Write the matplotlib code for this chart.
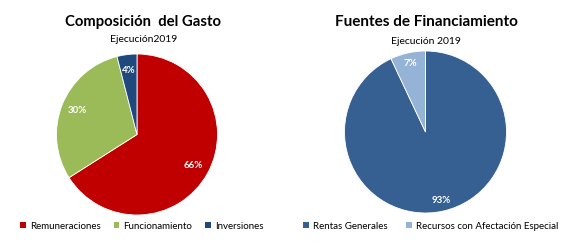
import matplotlib
matplotlib.use("Agg")
import matplotlib.pyplot as plt
from matplotlib.patches import Patch

plt.rcParams['font.family'] = ['Lato', 'DejaVu Sans']

gasto_labels = ["Remuneraciones", "Funcionamiento", "Inversiones"]
gasto_values = [66, 30, 4]
gasto_colors = ["#C00000", "#9BBB59", "#1F497D"]

fuentes_labels = ["Rentas Generales", "Recursos con Afectación Especial"]
fuentes_values = [93, 7]
fuentes_colors = ["#366092", "#95B3D7"]

W, H = 580, 247
fig = plt.figure(figsize=(W / 100, H / 100), dpi=100)
fig.patch.set_facecolor("white")

def make_ax(cx, cy, r):
    return fig.add_axes([(cx - r) / W, (H - cy - r) / H, 2 * r / W, 2 * r / H])

ax1 = make_ax(137, 134.5, 80.5)
w1, t1, a1 = ax1.pie(gasto_values, colors=gasto_colors, startangle=90, counterclock=False,
                     autopct=lambda p: f"{p:.0f}%", pctdistance=0.8,
                     wedgeprops=dict(linewidth=0.6, edgecolor="white"),
                     textprops=dict(color="white", fontsize=7, fontweight="bold"))
ax1.set_xlim(-1, 1); ax1.set_ylim(-1, 1); ax1.set_aspect("equal"); ax1.axis("off")

ax2 = make_ax(425.5, 132, 81)
w2, t2, a2 = ax2.pie(fuentes_values, colors=fuentes_colors, startangle=90, counterclock=False,
                     autopct=lambda p: f"{p:.0f}%", pctdistance=0.87,
                     wedgeprops=dict(linewidth=0.6, edgecolor="white"),
                     textprops=dict(color="white", fontsize=7, fontweight="bold"))
ax2.set_xlim(-1, 1); ax2.set_ylim(-1, 1); ax2.set_aspect("equal"); ax2.axis("off")

fig.text(143 / W, 1 - 22 / H, "Composición  del Gasto", ha="center", va="center",
         fontsize=10.7, fontweight="bold")
fig.text(144 / W, 1 - 40 / H, "Ejecución2019", ha="center", va="center", fontsize=7.5)
fig.text(426 / W, 1 - 22 / H, "Fuentes de Financiamiento", ha="center", va="center",
         fontsize=11, fontweight="bold")
fig.text(426 / W, 1 - 41 / H, "Ejecución 2019", ha="center", va="center", fontsize=7.5)

h1 = [Patch(facecolor=c, edgecolor="none", label=l) for c, l in zip(gasto_colors, gasto_labels)]
fig.legend(handles=h1, loc="center left", bbox_to_anchor=(20 / W, 1 - 226 / H), ncol=3,
           frameon=False, fontsize=7, handlelength=0.6, handleheight=0.6,
           handletextpad=0.4, columnspacing=1.35, borderpad=0, borderaxespad=0)
h2 = [Patch(facecolor=c, edgecolor="none", label=l) for c, l in zip(fuentes_colors, fuentes_labels)]
fig.legend(handles=h2, loc="center left", bbox_to_anchor=(303 / W, 1 - 226 / H), ncol=2,
           frameon=False, fontsize=7, handlelength=0.6, handleheight=0.6,
           handletextpad=0.4, columnspacing=1.9, borderpad=0, borderaxespad=0)

fig.savefig("out.png", dpi=100)
